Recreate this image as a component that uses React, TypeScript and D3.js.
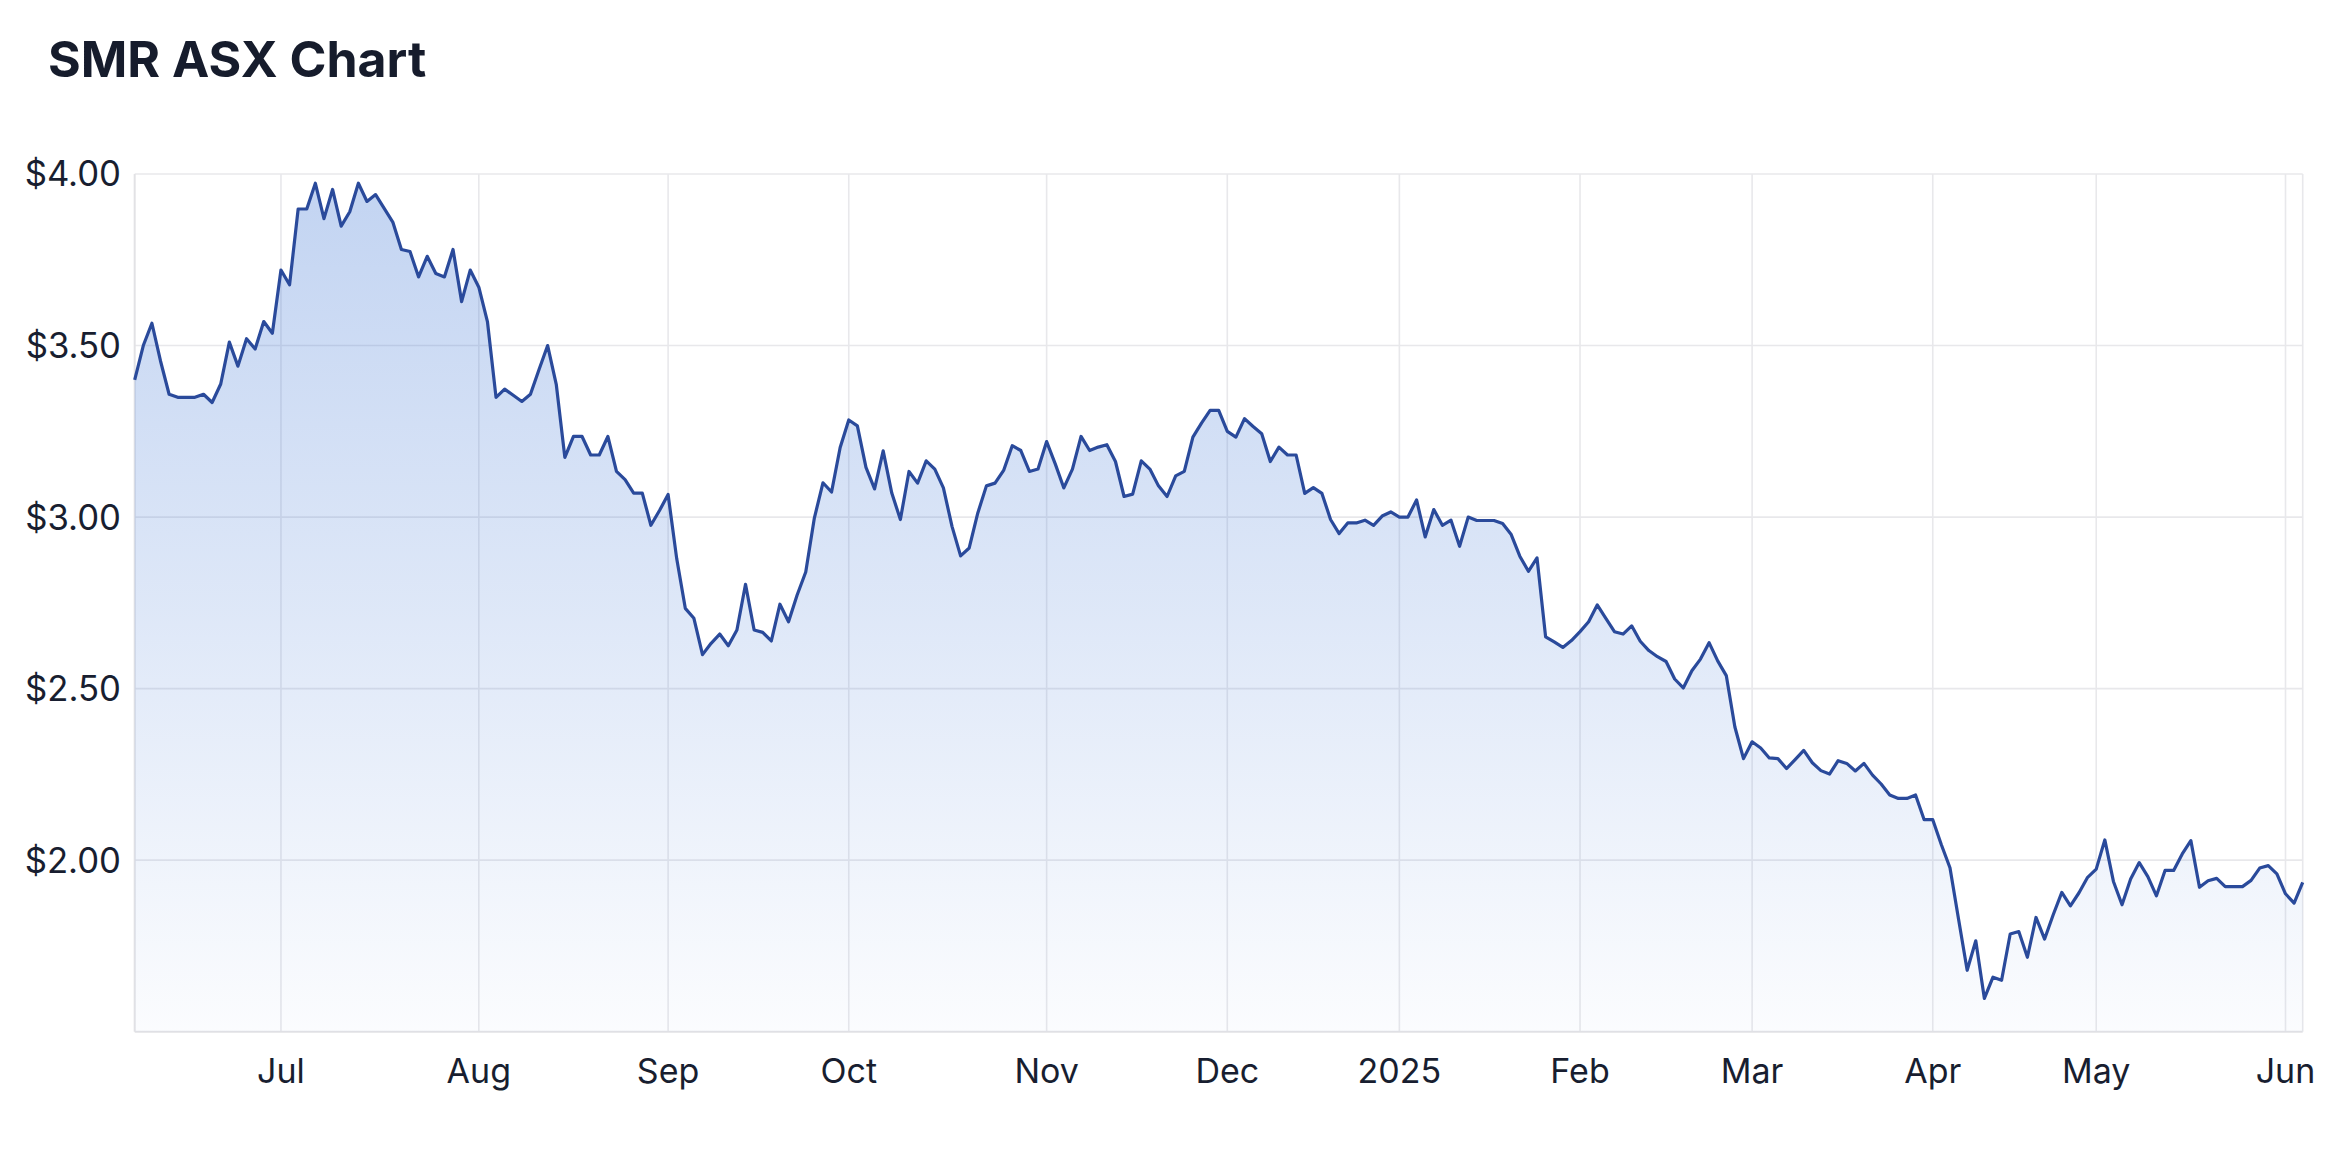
import React from "react";
import * as d3 from "d3";

const TITLE = "SMR ASX Chart";
const START_DATE = "2024-06-05";
const END_DATE = "2025-06-04";
const HOLIDAYS = ["2024-06-10", "2024-12-25", "2024-12-26", "2025-01-01", "2025-01-27", "2025-04-18", "2025-04-21", "2025-04-25"];
const MONTH_NAMES = ["Jan", "Feb", "Mar", "Apr", "May", "Jun", "Jul", "Aug", "Sep", "Oct", "Nov", "Dec"];
const Y_TICKS = [2.0, 2.5, 3.0, 3.5, 4.0];
const Y_DOMAIN = [1.5, 4.0];

const PRICES_JUN_JUL = [3.40, 3.50, 3.565, 3.455, 3.358, 3.349, 3.349, 3.349, 3.358, 3.334, 3.388, 3.51, 3.44, 3.52, 3.49, 3.57, 3.536, 3.72, 3.677, 3.898, 3.898, 3.973, 3.87, 3.955, 3.848, 3.89, 3.973, 3.92, 3.94, 3.90, 3.86, 3.78, 3.774, 3.70, 3.76, 3.71, 3.70, 3.78, 3.628, 3.72, 3.67, 3.57, 3.349, 3.373, 3.355, 3.337, 3.358];
const PRICES_AUG_SEP = [3.43, 3.50, 3.387, 3.174, 3.235, 3.235, 3.181, 3.181, 3.235, 3.133, 3.109, 3.07, 3.07, 2.976, 3.019, 3.066, 2.879, 2.734, 2.705, 2.599, 2.632, 2.659, 2.625, 2.671, 2.804, 2.671, 2.664, 2.639, 2.746, 2.695, 2.773, 2.84, 2.997, 3.10, 3.073, 3.203, 3.283, 3.266, 3.145, 3.082, 3.193, 3.07, 2.993];
const PRICES_OCT_NOV = [3.133, 3.099, 3.164, 3.14, 3.085, 2.973, 2.887, 2.91, 3.012, 3.091, 3.099, 3.136, 3.208, 3.194, 3.133, 3.14, 3.22, 3.155, 3.085, 3.14, 3.235, 3.194, 3.204, 3.211, 3.162, 3.06, 3.067, 3.164, 3.14, 3.091, 3.06, 3.12, 3.133, 3.233, 3.274, 3.311, 3.311, 3.25, 3.233, 3.287, 3.264, 3.243, 3.162, 3.204];
const PRICES_DEC_FEB = [3.181, 3.181, 3.069, 3.086, 3.069, 2.993, 2.952, 2.983, 2.983, 2.991, 2.976, 3.003, 3.015, 3.00, 3.00, 3.05, 2.942, 3.022, 2.976, 2.991, 2.915, 3.00, 2.99, 2.99, 2.99, 2.981, 2.949, 2.886, 2.842, 2.881, 2.651, 2.636, 2.62, 2.64, 2.666, 2.695, 2.744, 2.705, 2.666, 2.659, 2.683, 2.638, 2.611, 2.593];
const PRICES_FEB_APR = [2.579, 2.528, 2.502, 2.552, 2.586, 2.634, 2.581, 2.538, 2.388, 2.296, 2.345, 2.327, 2.298, 2.296, 2.267, 2.293, 2.32, 2.284, 2.261, 2.251, 2.29, 2.282, 2.26, 2.282, 2.248, 2.222, 2.19, 2.18, 2.18, 2.19, 2.118, 2.118, 2.045, 1.978, 1.828, 1.679, 1.765, 1.597, 1.659, 1.65, 1.785, 1.792, 1.717, 1.833];
const PRICES_APR_JUN = [1.77, 1.841, 1.906, 1.867, 1.905, 1.95, 1.974, 2.059, 1.938, 1.87, 1.945, 1.993, 1.952, 1.896, 1.97, 1.97, 2.018, 2.057, 1.921, 1.94, 1.947, 1.923, 1.923, 1.923, 1.941, 1.977, 1.984, 1.96, 1.902, 1.875, 1.935];

const PRICES = [...PRICES_JUN_JUL, ...PRICES_AUG_SEP, ...PRICES_OCT_NOV, ...PRICES_DEC_FEB, ...PRICES_FEB_APR, ...PRICES_APR_JUN];

const W = 2348;
const H = 1150;
const M = { left: 134.7, right: 2302.7, top: 174, bottom: 1031.7 };
const FONT = "Inter, 'Noto Sans', 'DejaVu Sans', sans-serif";
const TEXT = "#181e30";

function tradingDays(): Date[] {
  const fmt = d3.utcFormat("%Y-%m-%d");
  const parse = d3.utcParse("%Y-%m-%d");
  const start = parse(START_DATE) as Date;
  const end = parse(END_DATE) as Date;
  return d3.utcDay
    .range(start, d3.utcDay.offset(end, 1))
    .filter((d) => d.getUTCDay() !== 0 && d.getUTCDay() !== 6 && !HOLIDAYS.includes(fmt(d)));
}

export default function App() {
  const dates = tradingDays();
  const data = PRICES.map((v, i) => ({ i, v, d: dates[i] }));
  const x = d3.scaleLinear().domain([0, PRICES.length - 1]).range([M.left, M.right]);
  const y = d3.scaleLinear().domain(Y_DOMAIN).range([M.bottom, M.top]);

  const monthTicks: { i: number; label: string }[] = [];
  for (let i = 1; i < data.length; i++) {
    const a = data[i - 1].d, b = data[i].d;
    if (!a || !b) continue;
    if (a.getUTCMonth() !== b.getUTCMonth()) {
      const m = b.getUTCMonth();
      monthTicks.push({ i, label: m === 0 ? String(b.getUTCFullYear()) : MONTH_NAMES[m] });
    }
  }

  const line = d3.line<{ i: number; v: number }>().x((d) => x(d.i)).y((d) => y(d.v));
  const area = d3
    .area<{ i: number; v: number }>()
    .x((d) => x(d.i))
    .y0(y(Y_DOMAIN[0]))
    .y1((d) => y(d.v));

  return (
    <svg width={W} height={H} style={{ position: "absolute", left: 0, top: 0, background: "#fff" }}>
      <defs>
        <linearGradient id="fillGrad" gradientUnits="userSpaceOnUse" x1="0" y1={M.top} x2="0" y2={M.bottom}>
          <stop offset="0" stopColor="rgb(58,115,212)" stopOpacity={0.31} />
          <stop offset="0.5" stopColor="rgb(58,115,212)" stopOpacity={0.17} />
          <stop offset="1" stopColor="rgb(58,115,212)" stopOpacity={0.02} />
        </linearGradient>
      </defs>
      <rect x={0} y={0} width={W} height={H} fill="#fff" />
      <text x={48} y={77} fontFamily={FONT} fontWeight={700} fontSize={50} fill="#161c2c">
        {TITLE}
      </text>
      {Y_TICKS.map((t) => (
        <line key={"h" + t} x1={M.left} x2={M.right} y1={y(t)} y2={y(t)} stroke="#e8e8eb" strokeWidth={1.6} />
      ))}
      {monthTicks.map((t) => (
        <line key={"v" + t.i} x1={x(t.i)} x2={x(t.i)} y1={M.top} y2={M.bottom} stroke="#e8e8eb" strokeWidth={1.6} />
      ))}
      <line x1={M.right} x2={M.right} y1={M.top} y2={M.bottom} stroke="#e8e8eb" strokeWidth={1.6} />
      <line x1={M.left} x2={M.left} y1={M.top} y2={M.bottom} stroke="#e2e2e5" strokeWidth={2} />
      <line x1={M.left} x2={M.right} y1={M.bottom} y2={M.bottom} stroke="#e2e2e5" strokeWidth={2} />
      <path d={area(data) || ""} fill="url(#fillGrad)" />
      <path d={line(data) || ""} fill="none" stroke="#2a4a9b" strokeWidth={3.2} strokeLinejoin="round" />
      {Y_TICKS.map((t) => (
        <text key={"yl" + t} x={121} y={y(t)} dy="0.36em" textAnchor="end" fontFamily={FONT} fontSize={34.7} fill={TEXT}>
          {d3.format("$.2f")(t)}
        </text>
      ))}
      {monthTicks.map((t) => (
        <text key={"xl" + t.i} x={x(t.i)} y={1083} textAnchor="middle" fontFamily={FONT} fontSize={34} fill={TEXT}>
          {t.label}
        </text>
      ))}
    </svg>
  );
}
